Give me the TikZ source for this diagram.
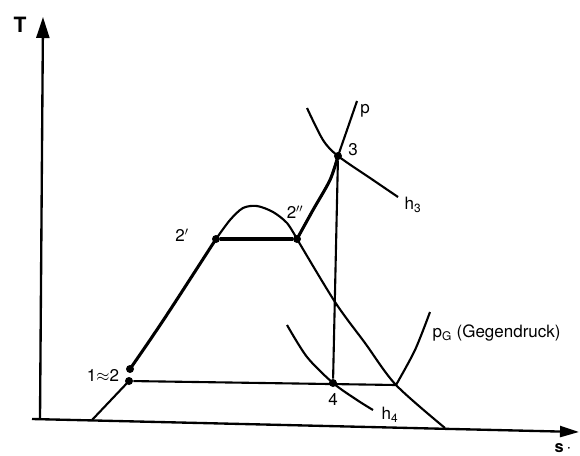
\documentclass[tikz,border=0pt]{standalone}
\usepackage{fontspec}
\setmainfont{TeX Gyre Heros}
\usetikzlibrary{positioning, arrows.meta}
\tikzset{every picture/.append style={thick}}
\tikzset{
  zustand/.style={circle, fill=black, inner sep=0pt, minimum size=2.4mm},
  kurve/.style={line width=1.8pt},
  prozess/.style={line width=2.6pt},
  achse/.style={line width=2pt},
  beschr/.style={font=\fontsize{14.5}{16}\selectfont, inner sep=1pt},
}

\begin{document}
\begin{tikzpicture}[x=0.3mm, y=0.3mm]
        \useasboundingbox (0,0) rectangle (580,455);
        % ----------------------------------------------------
        % Axes T, s
        % ----------------------------------------------------
        \coordinate (T0) at (40,36);
        \coordinate (T1) at (43,438);
        \coordinate (s0) at (32,36);
        \coordinate (s1) at (579,23);
        \draw[achse, -{Triangle[length=6.3mm, width=3.9mm]}] (T0) -- (T1);
        \draw[achse, -{Triangle[length=5.7mm, width=3.3mm]}] (s0) -- (s1);
        \node[font=\fontsize{18}{20}\selectfont\bfseries] (labT) at (20,430) {T};
        \node[beschr, font=\fontsize{14}{16}\selectfont\bfseries] (labs) at (563,7) {s\,$\cdot$};

        % ----------------------------------------------------
        % State points
        % ----------------------------------------------------
        \node[zustand] (p1) at (130,86) {};
        \node[zustand] (p2) at (129,74) {};
        \node[zustand] (p2a) at (216,216) {};
        \node[zustand] (p2b) at (297,216) {};
        \node[zustand] (p3) at (338,299) {};
        \node[zustand] (p4) at (333,72) {};
        \coordinate (g) at (396,70);

        % Saturation dome
        \draw[kurve] (92,35) -- (p2.center);
        \draw[kurve] plot[smooth] coordinates {(p2a.center) (230,235) (243,247) (257,249) (273,243) (287,232) (p2b.center)};
        \draw[kurve] plot[smooth] coordinates {(p2b.center) (335,153) (365,112) (g) (445,27)};

        % Isobar p, isenthalps h_3, h_4, isobar p_G
        \draw[kurve] plot[smooth] coordinates {(p2b.center) (313,245) (330,275) (p3.center) (347,325) (357,354)};
        \draw[kurve] plot[smooth] coordinates {(307,347) (323,315) (p3.center) (373,275) (398,258)};
        \draw[kurve] plot[smooth] coordinates {(287,130) (307,98) (p4.center) (357,55) (373,45)};
        \draw[kurve] plot[smooth] coordinates {(g) (415,105) (430,143)};

        % Process 1 - 2' - 2'' - 3 - 4, 2 - p_G
        \draw[prozess] plot[smooth] coordinates {(p1.center) (150,115) (172,148) (p2a.center)};
        \draw[prozess] (p2a) -- (p2b);
        \draw[prozess] plot[smooth] coordinates {(p2b.center) (313,245) (330,275) (p3.center)};
        \draw[kurve] (p3) -- (p4);
        \draw[kurve] (p2) -- (g);

        % Labels
        \node[beschr] (lab1) at (103,80) {1$\approx$2};
        \node[beschr] (lab2a) at (182,220) {2$'$};
        \node[beschr] (lab2b) at (295,243) {2$''$};
        \node[beschr] (lab3) at (353,305) {3};
        \node[beschr, below=1.2mm of p4] (lab4) {4};
        \node[beschr] (labp) at (365,344) {p};
        \node[beschr] (labh3) at (413,250) {h\textsubscript{3}};
        \node[beschr] (labh4) at (390,40) {h\textsubscript{4}};
        \node[beschr, anchor=west] (labpG) at (431,122) {p\textsubscript{G} (Gegendruck)};
\end{tikzpicture}
\end{document}
